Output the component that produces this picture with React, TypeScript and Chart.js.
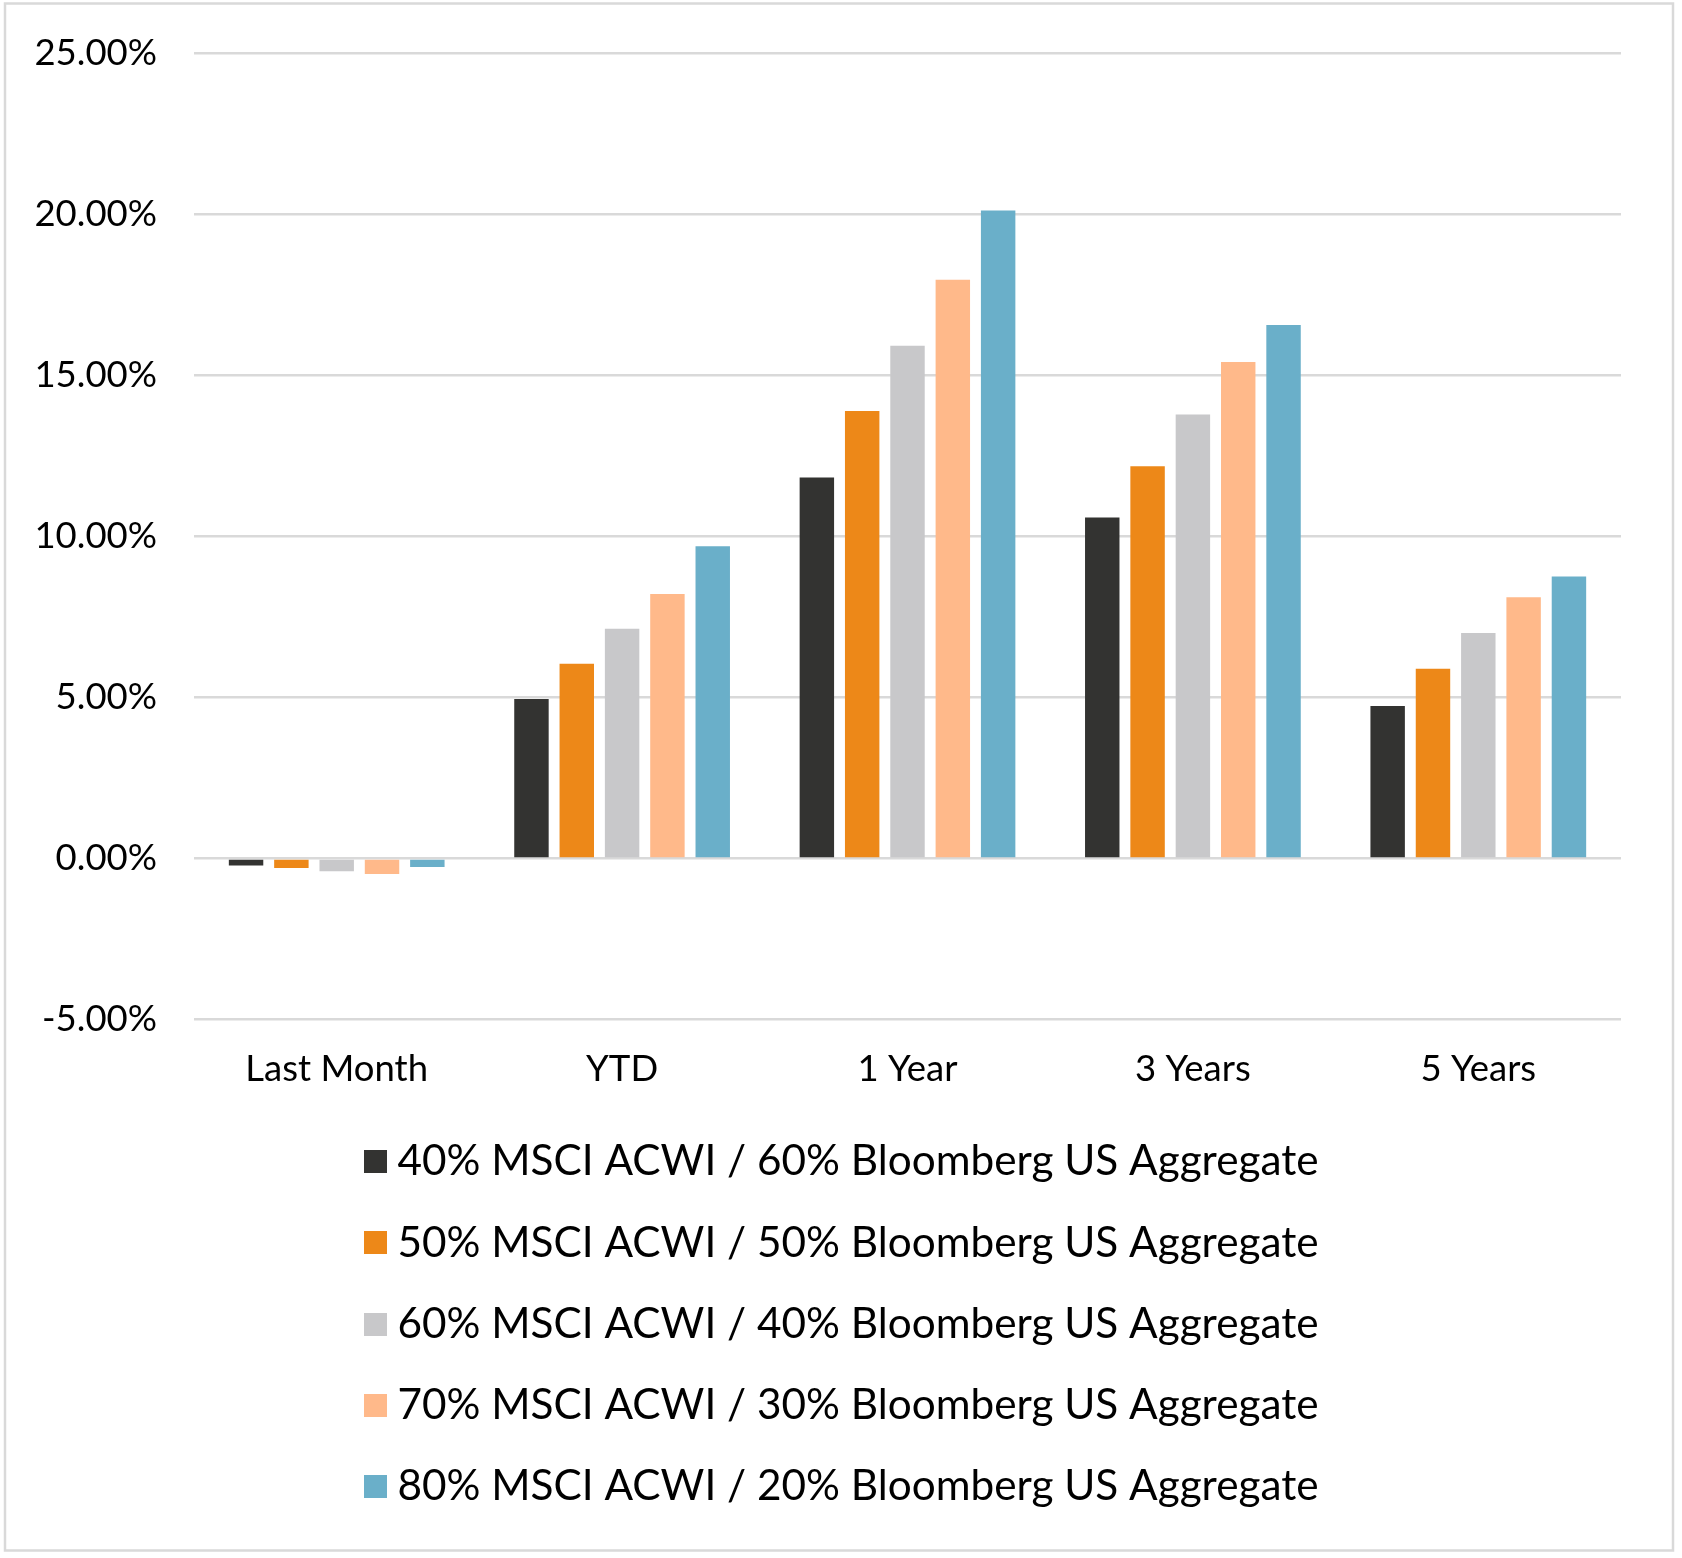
import { useEffect, useRef } from "react";
import { Chart, registerables } from "chart.js";

Chart.register(...registerables);

const categories = ["Last Month", "YTD", "1 Year", "3 Years", "5 Years"];
const seriesNames = [
  "40% MSCI ACWI / 60% Bloomberg US Aggregate",
  "50% MSCI ACWI / 50% Bloomberg US Aggregate",
  "60% MSCI ACWI / 40% Bloomberg US Aggregate",
  "70% MSCI ACWI / 30% Bloomberg US Aggregate",
  "80% MSCI ACWI / 20% Bloomberg US Aggregate",
];
const s40 = [-0.22, 4.95, 11.82, 10.58, 4.73];
const s50 = [-0.3, 6.04, 13.89, 12.17, 5.89];
const s60 = [-0.4, 7.13, 15.91, 13.78, 7.0];
const s70 = [-0.48, 8.21, 17.96, 15.41, 8.11];
const s80 = [-0.27, 9.69, 20.11, 16.56, 8.75];
const seriesValues = [s40, s50, s60, s70, s80];
const colors = ["#333331", "#ED8818", "#C8C8CA", "#FFB98A", "#6AAFC9"];
const yMin = -5;
const yMax = 25;
const yStep = 5;

const W = 1682;
const H = 1558;
const FONT = "Lato, 'Open Sans', sans-serif";
const SWATCH = 23;
const LEGEND_SHIFT = 36;

function makeSwatch(color: string) {
  const c = document.createElement("canvas");
  c.width = SWATCH;
  c.height = SWATCH;
  const g = c.getContext("2d");
  if (g) {
    g.fillStyle = color;
    g.fillRect(0, 0, SWATCH, SWATCH);
  }
  return c;
}

const frame = {
  id: "frame",
  afterLayout(chart: any) {
    const lg = chart.legend;
    if (lg) {
      lg.left = LEGEND_SHIFT;
      lg.right = chart.width - 61 + LEGEND_SHIFT;
    }
  },
  beforeDraw(chart: any) {
    const ctx = chart.ctx;
    ctx.save();
    ctx.fillStyle = "#ffffff";
    ctx.fillRect(0, 0, chart.width, chart.height);
    ctx.strokeStyle = "#d9d9d9";
    ctx.lineWidth = 2.5;
    ctx.strokeRect(5, 3.5, 1668, 1547);
    ctx.restore();
  },
};

export default function App() {
  const ref = useRef<HTMLCanvasElement | null>(null);
  useEffect(() => {
    document.body.style.margin = "0";
    if (!ref.current) return;
    Chart.defaults.color = "#000000";
    const chart = new Chart(ref.current, {
      type: "bar",
      data: {
        labels: categories,
        datasets: seriesNames.map((name, i) => ({
          label: name,
          data: seriesValues[i],
          backgroundColor: colors[i],
          borderWidth: 0,
          pointStyle: makeSwatch(colors[i]),
          categoryPercentage: 0.794,
          barPercentage: 0.76,
        })),
      },
      options: {
        animation: false,
        responsive: false,
        devicePixelRatio: 1,
        layout: { autoPadding: false, padding: { left: 0, right: 61, top: 53, bottom: 40 } },
        plugins: {
          tooltip: { enabled: false },
          legend: {
            position: "bottom",
            align: "center",
            labels: {
              usePointStyle: true,
              boxWidth: 2,
              boxHeight: SWATCH,
              padding: 39,
              color: "#000000",
              font: { family: FONT, size: 42.3 },
            },
          },
        },
        scales: {
          x: {
            grid: { display: false, drawTicks: false },
            border: { display: false },
            ticks: {
              padding: 28,
              color: "#000000",
              font: { family: FONT, size: 36.5 },
              maxRotation: 0,
            },
            afterFit(scale: any) {
              scale.height = 82;
            },
          },
          y: {
            min: yMin,
            max: yMax,
            grid: { color: "#d9d9d9", lineWidth: 2.5, drawTicks: false },
            border: { display: false },
            ticks: {
              stepSize: yStep,
              padding: 37,
              color: "#000000",
              font: { family: FONT, size: 36.5 },
              callback: (v: any) => Number(v).toFixed(2) + "%",
            },
            afterFit(scale: any) {
              scale.width = 194;
              scale.paddingTop = 0;
              scale.paddingBottom = 0;
            },
          },
        },
      },
      plugins: [frame],
    });
    return () => chart.destroy();
  }, []);
  return (
    <div style={{ width: W, height: H }}>
      <canvas ref={ref} width={W} height={H} style={{ width: W, height: H, display: "block" }} />
    </div>
  );
}
